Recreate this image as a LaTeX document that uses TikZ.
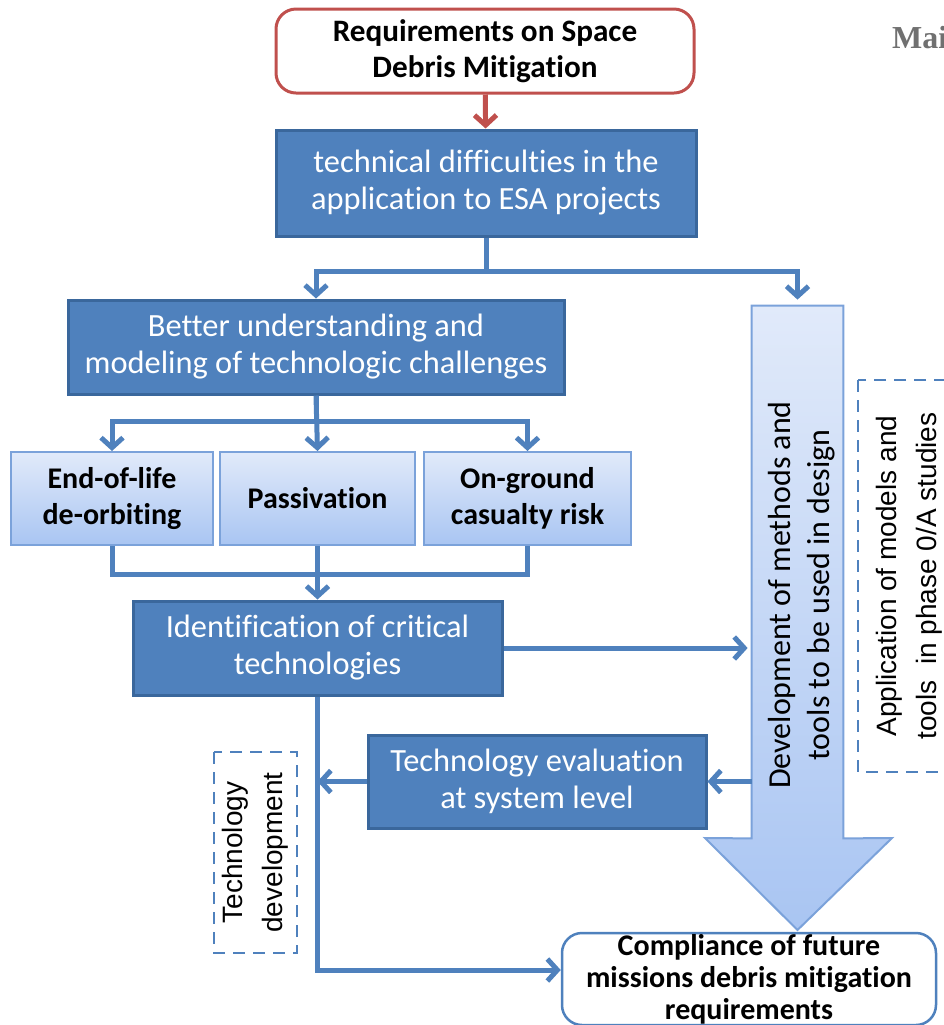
\documentclass[tikz,border=0pt]{standalone}
\usepackage{fontspec}
\setmainfont{Carlito}[RawFeature={-liga,-clig}]
\newfontfamily\arialfont{Liberation Sans}
\newfontfamily\timesfont{Liberation Serif}
\usepackage{xcolor}
\usepackage{tikz}
\usetikzlibrary{positioning,calc,arrows.meta}

\definecolor{esablue}{HTML}{4F81BD}
\definecolor{esadark}{HTML}{3A679C}
\definecolor{esared}{HTML}{C0504D}
\definecolor{lighttop}{HTML}{E1EAFA}
\definecolor{lightbot}{HTML}{A9C5F2}
\definecolor{lightedge}{HTML}{7BA2DA}
\definecolor{titlegray}{HTML}{707070}

\begin{document}
\begin{tikzpicture}[x=0.5pt,y=-0.5pt,
    darkbox/.style={draw=esadark,line width=1.5pt,fill=esablue,text=white,align=center,
        inner sep=0pt,font=\fontsize{16.2}{18.5}\selectfont},
    lightbox/.style={draw=lightedge,line width=1pt,top color=lighttop,bottom color=lightbot,
        align=center,inner sep=0pt,minimum height=46.5pt,font=\fontsize{15}{18}\selectfont\bfseries},
    endbox/.style={draw,rounded corners=10pt,fill=white,align=center,inner sep=0pt},
    notebox/.style={draw=esablue,dash pattern=on 6pt off 4pt,line width=1.4pt,align=center,
        inner sep=0pt,font=\arialfont\fontsize{14}{20}\selectfont},
    flow/.style={esablue,line width=2.5pt,-{Straight Barb[length=5pt,width=11pt]}},
    bus/.style={esablue,line width=2.5pt}]
    \useasboundingbox (0,0) rectangle (944,1025);

    \node[anchor=base west,text=titlegray,font=\timesfont\bfseries\fontsize{16}{18}\selectfont] (title) at (885,48) {Main};

    % Requirements
    \node[endbox,draw=esared,line width=1.5pt,minimum width=209pt,minimum height=42pt,
        font=\fontsize{15.6}{18}\selectfont\bfseries] (req) at (485,51) {Requirements on Space\\Debris Mitigation};
    \node[darkbox,minimum width=210pt,minimum height=53pt] (tech) at (486,183) {technical difficulties in the\\application to ESA projects};
    \draw[flow,esared] (req) -- (tech);

    % Left branch
    \node[darkbox,minimum width=248pt,minimum height=47pt] (better) at (316,347) {Better understanding and\\modeling of technologic challenges};
    \node[lightbox,minimum width=101pt] (eol) at (112,498.5) {End-of-life\\de-orbiting};
    \node[lightbox,minimum width=97.5pt] (pass) at (317.5,498.5) {Passivation};
    \node[lightbox,minimum width=103.5pt] (ground) at (527.5,498.5) {On-ground\\casualty risk};
    \node[darkbox,minimum width=184.5pt,minimum height=47pt] (ident) at (317.5,648) {Identification of critical\\technologies};
    \node[darkbox,minimum width=169pt,minimum height=46.5pt] (eval) at (537,781.5) {Technology evaluation\\at system level};
    \node[notebox,rotate=90,minimum width=100.5pt,minimum height=41.5pt] (techdev) at (255.5,852.5) {Technology\\development};

    % Right branch: big arrow
    \node[minimum width=45.5pt,minimum height=266pt,inner sep=0pt] (shaft) at (797.5,572) {};
    \shade[top color=lighttop,bottom color=lightbot,draw=lightedge,line width=1pt]
        (shaft.north west) -- (shaft.north east) -- (shaft.south east) -- (892,838)
        -- (797.5,930) -- (705,838) -- (shaft.south west) -- cycle;
    \node[rotate=90,align=center,font=\fontsize{16}{19.5}\selectfont] (devtext) at (802,595) {Development of methods and\\tools to be used in design};
    \node[notebox,rotate=90,minimum width=196pt,minimum height=51pt] (appl) at (909,576) {Application of models and\\tools~ in phase 0/A studies};

    % Compliance
    \node[endbox,draw=esablue,line width=1.25pt,minimum width=187pt,minimum height=46pt,
        font=\fontsize{15}{16}\selectfont\bfseries] (compl) at (749,979) {Compliance of future\\missions debris mitigation\\requirements};

    % Connectors
    \draw[flow] (tech.south) -- ++(0,34) -| (better.north);
    \draw[flow,shorten >=3pt] (tech.south) -- ++(0,34) -| (shaft.north);
    \draw[flow] (better.south) -- ++(0,26) -| (eol.north);
    \draw[flow] (better.south) -- (pass.north);
    \draw[flow] (better.south) -- ++(0,26) -| (ground.north);
    \draw[bus] (eol.south) -- ++(0,28) -| (ground.south);
    \draw[flow] (pass.south) -- (ident.north);
    \draw[flow,shorten >=2pt] (ident.east) -- (ident.east -| shaft.west);
    \draw[flow] (eval.east -| shaft.west) -- (eval.east);
    \draw[flow] (eval.west) -- (eval.west -| ident.south);
    \draw[flow] (ident.south) |- ([yshift=4.5pt]compl.west);
\end{tikzpicture}
\end{document}
